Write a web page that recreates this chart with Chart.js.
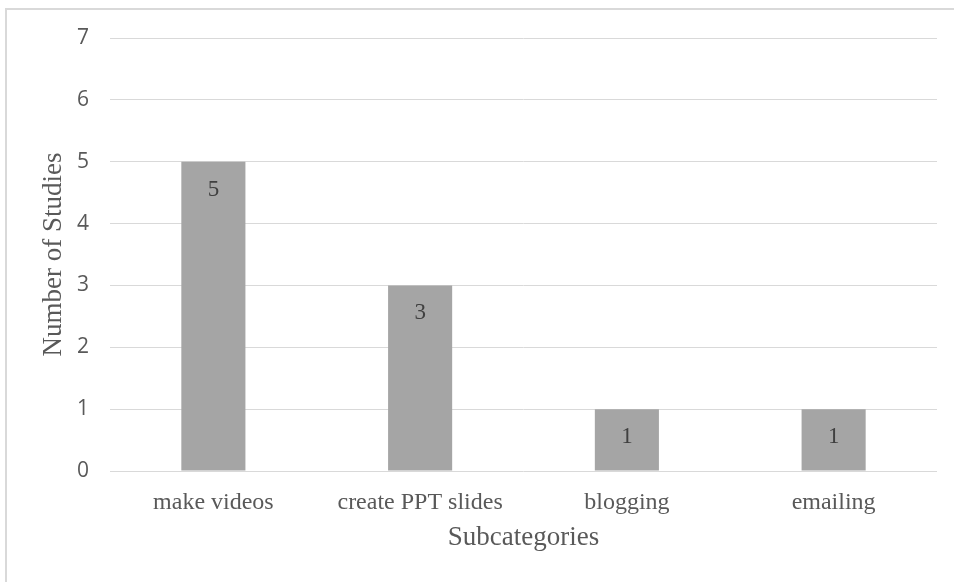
<!DOCTYPE html>
<html>
<head>
<meta charset="utf-8">
<script src="https://cdn.jsdelivr.net/npm/chart.js@4/dist/chart.umd.min.js"></script>
<style>
  html, body { margin: 0; padding: 0; background: #fff; }
  #wrap { position: absolute; left: 0; top: 0; width: 954px; height: 582px; overflow: hidden; }
  #frame { position: absolute; left: 5px; top: 8px; width: 960px; height: 600px; border: 2px solid #d9d9d9; box-sizing: border-box; }
  #c { position: absolute; left: 0; top: 0; }
</style>
</head>
<body>
<div id="wrap">
  <div id="frame"></div>
  <canvas id="c" width="954" height="582"></canvas>
</div>
<script>
const categories = ['make videos', 'create PPT slides', 'blogging', 'emailing'];
const studyCounts = [5, 3, 1, 1];
const yTicks = [0, 1, 2, 3, 4, 5, 6, 7];

const serif = '"Liberation Serif", "Times New Roman", serif';

// Value labels drawn just inside the top of each bar
const insideEndLabels = {
  id: 'insideEndLabels',
  afterDatasetsDraw(chart) {
    const ctx = chart.ctx;
    const meta = chart.getDatasetMeta(0);
    ctx.save();
    ctx.font = '23px ' + serif;
    ctx.fillStyle = '#404040';
    ctx.textAlign = 'center';
    ctx.textBaseline = 'middle';
    meta.data.forEach((bar, i) => {
      ctx.fillText(String(studyCounts[i]), bar.x, bar.y + 28);
    });
    ctx.restore();
  }
};

new Chart(document.getElementById('c'), {
  type: 'bar',
  data: {
    labels: categories,
    datasets: [{
      data: studyCounts,
      backgroundColor: '#a5a5a5',
      borderWidth: 0,
      categoryPercentage: 1,
      barPercentage: 0.31
    }]
  },
  options: {
    responsive: false,
    animation: false,
    devicePixelRatio: 1,
    layout: { padding: { left: 38, right: 17, top: 38, bottom: 28 } },
    plugins: { legend: { display: false }, tooltip: { enabled: false } },
    scales: {
      x: {
        afterFit(scale) { scale.height = 83; },
        grid: { display: false, drawTicks: false },
        border: { display: false },
        ticks: {
          color: '#595959',
          padding: 17,
          maxRotation: 0,
          font: { family: serif, size: 24 }
        },
        title: {
          display: true,
          text: 'Subcategories',
          color: '#595959',
          padding: { top: 5, bottom: 0 },
          font: { family: serif, size: 27 }
        }
      },
      y: {
        min: 0,
        max: 7,
        afterFit(scale) { scale.width = 72; },
        afterBuildTicks(axis) { axis.ticks = yTicks.map(v => ({ value: v })); },
        grid: { color: '#d9d9d9', lineWidth: 1, drawTicks: false },
        border: { display: false },
        ticks: {
          color: '#595959',
          padding: 21,
          font: { family: '"Open Sans", sans-serif', size: 21 }
        },
        title: {
          display: true,
          text: 'Number of Studies',
          color: '#595959',
          padding: { top: 0, bottom: 7 },
          font: { family: serif, size: 27 }
        }
      }
    }
  },
  plugins: [insideEndLabels]
});
</script>
</body>
</html>
